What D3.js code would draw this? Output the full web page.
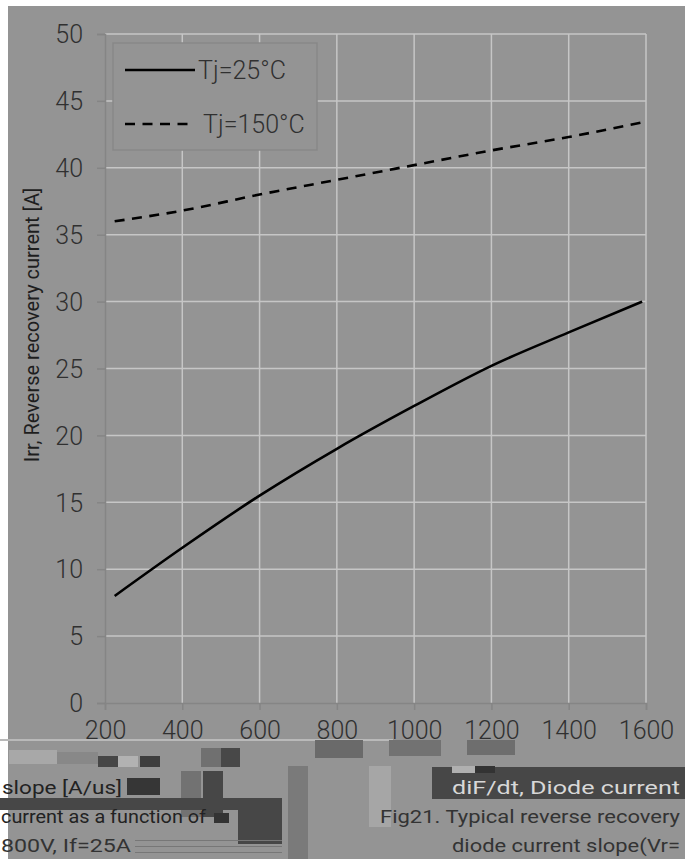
<!DOCTYPE html>
<html>
<head>
<meta charset="utf-8">
<script src="https://cdn.jsdelivr.net/npm/d3@7"></script>
<style>
  body { margin: 0; background: #fff; }
  svg text { font-family: Roboto, "Liberation Sans", sans-serif; font-weight: 300; }
</style>
</head>
<body>
<div id="chart"></div>
<script>
const SVG_WIDTH = 685;
const SVG_HEIGHT = 859;
const MARGIN = { top: 34, right: 39, bottom: 156, left: 105 };
const WIDTH = SVG_WIDTH - MARGIN.left - MARGIN.right;
const HEIGHT = SVG_HEIGHT - MARGIN.top - MARGIN.bottom;

const BG = "#949494";
const GRID = "#c6c6c6";
const AXIS = "#858585";
const TEXT = "#303030";

// data
const X_TICKS = [200, 400, 600, 800, 1000, 1200, 1400, 1600];
const Y_TICKS = [0, 5, 10, 15, 20, 25, 30, 35, 40, 45, 50];
const DIDT = [225, 400, 600, 800, 1000, 1200, 1400, 1590];
const IRR_25 = [8.0, 11.6, 15.5, 19.0, 22.2, 25.2, 27.7, 30.0];
const IRR_150 = [36.0, 36.8, 38.0, 39.1, 40.2, 41.3, 42.3, 43.4];
const SERIES_NAMES = ["Tj=25°C", "Tj=150°C"];
const Y_LABEL = "Irr, Reverse recovery current [A]";

const svg = d3.select("#chart").append("svg")
    .attr("width", SVG_WIDTH)
    .attr("height", SVG_HEIGHT);

// gray scanned page
svg.append("rect")
    .attr("x", 8).attr("y", 6)
    .attr("width", SVG_WIDTH - 8).attr("height", SVG_HEIGHT - 6)
    .attr("fill", BG);

const g = svg.append("g")
    .attr("transform", `translate(${MARGIN.left},${MARGIN.top})`);

const x = d3.scaleLinear().domain([200, 1600]).range([0, WIDTH]);
const y = d3.scaleLinear().domain([0, 50]).range([HEIGHT, 0]);

// grid
g.append("g").selectAll("line")
    .data(X_TICKS.slice(1))
    .join("line")
    .attr("x1", d => x(d)).attr("x2", d => x(d))
    .attr("y1", 0).attr("y2", HEIGHT)
    .attr("stroke", GRID).attr("stroke-width", 1.5);

g.append("g").selectAll("line")
    .data(Y_TICKS.slice(1))
    .join("line")
    .attr("x1", 0).attr("x2", WIDTH)
    .attr("y1", d => y(d)).attr("y2", d => y(d))
    .attr("stroke", GRID).attr("stroke-width", 1.5);

// axes
const yAxis = g.append("g")
    .call(d3.axisLeft(y).tickValues(Y_TICKS).tickSize(8).tickPadding(14));
const xAxis = g.append("g")
    .attr("transform", `translate(0,${HEIGHT})`)
    .call(d3.axisBottom(x).tickValues(X_TICKS).tickFormat(d3.format("d")).tickSize(7).tickPadding(11));

[xAxis, yAxis].forEach(a => {
    a.select(".domain").attr("stroke", AXIS).attr("stroke-width", 1.5);
    a.selectAll(".tick line").attr("stroke", AXIS).attr("stroke-width", 1.5);
    a.selectAll(".tick text")
        .attr("fill", TEXT)
        .style("font-size", "25px");
});
yAxis.selectAll(".tick text").attr("dy", "0.35em");

// y title
svg.append("text")
    .attr("transform", `translate(39,325) rotate(-90)`)
    .attr("text-anchor", "middle")
    .attr("fill", "#1e1e1e")
    .style("font-size", "20px")
    .style("font-weight", 400)
    .text(Y_LABEL);

// curves
const line = d3.line()
    .x(d => x(d[0]))
    .y(d => y(d[1]))
    .curve(d3.curveMonotoneX);

const series = [
    { name: SERIES_NAMES[0], values: DIDT.map((d, i) => [d, IRR_25[i]]), dash: null },
    { name: SERIES_NAMES[1], values: DIDT.map((d, i) => [d, IRR_150[i]]), dash: "10,7.5" }
];

g.selectAll("path.series")
    .data(series)
    .join("path")
    .attr("class", "series")
    .attr("d", d => line(d.values))
    .attr("fill", "none")
    .attr("stroke", "#000")
    .attr("stroke-width", 2.6)
    .attr("stroke-dasharray", d => d.dash);

// legend
const legend = svg.append("g").attr("transform", "translate(113,43)");
legend.append("rect")
    .attr("width", 204).attr("height", 107)
    .attr("fill", BG)
    .attr("stroke", "#888").attr("stroke-width", 1.5);

legend.selectAll("g.item")
    .data(series)
    .join("g")
    .attr("class", "item")
    .attr("transform", (d, i) => `translate(0,${27 + i * 54})`)
    .each(function(d, i) {
        const item = d3.select(this);
        item.append("line")
            .attr("x1", 12).attr("x2", i === 0 ? 82 : 78)
            .attr("stroke", "#000").attr("stroke-width", 2.6)
            .attr("stroke-dasharray", d.dash);
        item.append("text")
            .attr("x", i === 0 ? 85 : 90)
            .attr("dy", "0.35em")
            .attr("fill", TEXT)
            .style("font-size", "25px")
            .text(d.name);
    });

// damaged caption area below the chart
const blocks = [
    [0, 739, 393, 2, "#b9b9b9"],
    [315, 740, 48, 18, "#6a6a6a"],
    [389, 740, 52, 16, "#727272"],
    [467, 740, 48, 15, "#6e6e6e"],
    [9, 750, 48, 14, "#a8a8a8"],
    [57, 752, 41, 12, "#888"],
    [98, 756, 20, 11, "#464646"],
    [118, 756, 20, 11, "#b2b2b2"],
    [140, 756, 20, 11, "#3e3e3e"],
    [201, 748, 20, 19, "#707070"],
    [221, 748, 19, 19, "#484848"],
    [288, 766, 20, 93, "#7a7a7a"],
    [369, 766, 22, 61, "#a6a6a6"],
    [432, 767, 253, 32, "#474747"],
    [452, 766, 42, 7, "#b0b0b0"],
    [475, 766, 20, 7, "#333"],
    [127, 778, 33, 17, "#363636"],
    [181, 771, 20, 46, "#727272"],
    [203, 771, 20, 46, "#474747"],
    [0, 798, 282, 12, "#474747"],
    [238, 798, 44, 46, "#474747"],
    [214, 813, 15, 10, "#333"],
    [135, 840, 147, 1, "#777"],
    [135, 846, 147, 1, "#777"],
    [135, 852, 147, 1, "#777"]
];
svg.append("g").selectAll("rect")
    .data(blocks)
    .join("rect")
    .attr("x", d => d[0]).attr("y", d => d[1])
    .attr("width", d => d[2]).attr("height", d => d[3])
    .attr("fill", d => d[4]);

const captions = [
    [2, 794, "slope [A/us]", "#222", 120],
    [1, 823, "current as a function of", "#222", 205],
    [1, 852, "800V, If=25A", "#333", 130],
    [452, 794, "diF/dt, Diode current", "#d8d8d8", 228],
    [380, 823, "Fig21. Typical reverse recovery", "#333", 300],
    [452, 852, "diode current slope(Vr=", "#333", 228]
];
svg.append("g").selectAll("text")
    .data(captions)
    .join("text")
    .attr("x", d => d[0]).attr("y", d => d[1])
    .attr("fill", d => d[3])
    .attr("textLength", d => d[4])
    .attr("lengthAdjust", "spacingAndGlyphs")
    .style("font-size", "19px")
    .style("font-weight", 400)
    .text(d => d[2]);
</script>
</body>
</html>
